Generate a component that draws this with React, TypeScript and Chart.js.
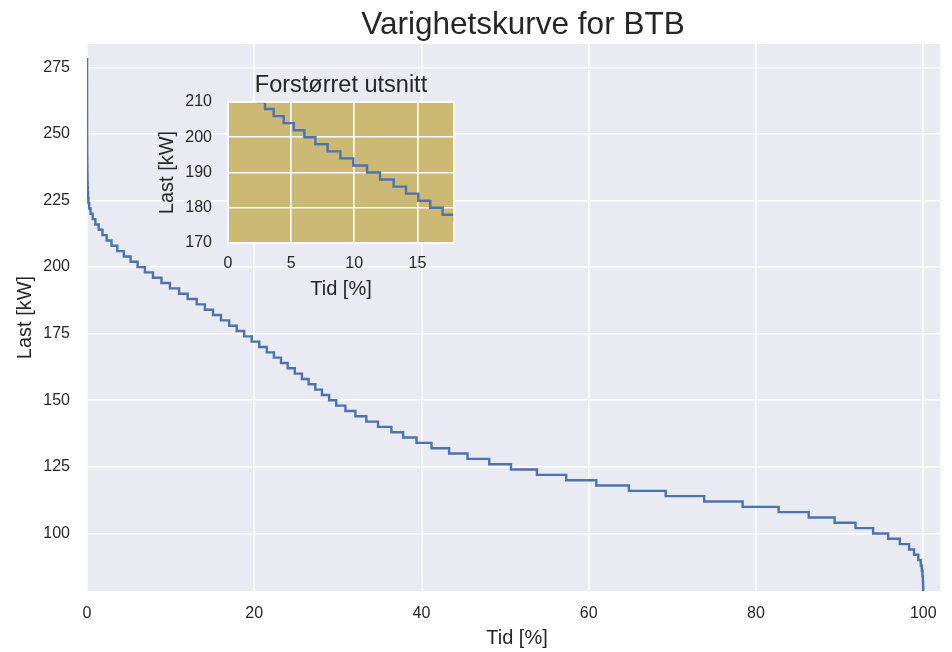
import { useEffect, useRef } from "react";
import { Chart, registerables } from "chart.js";

Chart.register(...registerables);

// Load duration curve: each load level (kW) and the share of time (%) at which it starts
const loadLevels = [
  278, 276, 274, 272, 270, 268, 266, 264, 262, 260,
  258, 256, 254, 252, 250, 248, 246, 244, 242, 240,
  238, 236, 234, 232, 230, 228, 226, 224, 222, 220,
  218, 216, 214, 212, 210, 208, 206, 204, 202, 200,
  198, 196, 194, 192, 190, 188, 186, 184, 182, 180,
  178, 176, 174, 172, 170, 168, 166, 164, 162, 160,
  158, 156, 154, 152, 150, 148, 146, 144, 142, 140,
  138, 136, 134, 132, 130, 128, 126, 124, 122, 120,
  118, 116, 114, 112, 110, 108, 106, 104, 102, 100,
  98, 96, 94, 92, 90, 88, 86, 84, 82, 80, 78,
];
const levelStart = [
  0, 0.001, 0.002, 0.003, 0.004, 0.005, 0.006, 0.007, 0.008, 0.009,
  0.01, 0.011, 0.012, 0.014, 0.016, 0.018, 0.02, 0.023, 0.026, 0.03,
  0.035, 0.042, 0.05, 0.06, 0.075, 0.095, 0.125, 0.17, 0.26, 0.42,
  0.68, 1.0, 1.4, 1.85, 2.35, 2.93, 3.62, 4.41, 5.21, 6.05,
  6.92, 7.89, 8.9, 9.92, 11.01, 12.04, 13.12, 14.1, 15.07, 16.02,
  17.0, 17.9, 18.8, 19.7, 20.6, 21.5, 22.35, 23.2, 24.0, 24.85,
  25.7, 26.5, 27.3, 28.1, 28.95, 29.8, 30.9, 32.1, 33.4, 34.8,
  36.4, 37.8, 39.4, 41.2, 43.3, 45.5, 48.1, 50.7, 53.8, 57.3,
  60.9, 64.8, 69.2, 73.8, 78.4, 82.7, 86.3, 89.4, 91.9, 94.0,
  95.8, 97.2, 98.3, 98.9, 99.4, 99.7, 99.82, 99.9, 99.95, 99.98, 99.995,
];
const endTime = 100;

const mainXTicks = [0, 20, 40, 60, 80, 100];
const mainYTicks = [100, 125, 150, 175, 200, 225, 250, 275];
const insetXTicks = [0, 5, 10, 15];
const insetYTicks = [170, 180, 190, 200, 210];

const FONT = '"Liberation Sans", Arial, Helvetica, sans-serif';
const TEXT = "#262626";
const LINE = "#4C72B0";

function curvePoints() {
  const pts = loadLevels.map((y, i) => ({ x: levelStart[i], y }));
  pts.push({ x: endTime, y: loadLevels[loadLevels.length - 1] });
  return pts;
}

type Label = { text: string; x: number; y: number; size: number; rotate?: boolean };

function areaPlugin(fill: string, frame: boolean) {
  return {
    id: "areaPlugin",
    beforeDraw(chart: any) {
      const { ctx, chartArea: a } = chart;
      ctx.save();
      ctx.fillStyle = fill;
      ctx.fillRect(a.left, a.top, a.right - a.left, a.bottom - a.top);
      ctx.restore();
    },
    afterDatasetsDraw(chart: any) {
      if (!frame) return;
      const { ctx, chartArea: a } = chart;
      ctx.save();
      ctx.strokeStyle = "#ffffff";
      ctx.lineWidth = 1.6;
      ctx.strokeRect(a.left, a.top, a.right - a.left, a.bottom - a.top);
      ctx.restore();
    },
  };
}

function labelPlugin(labels: Label[]) {
  return {
    id: "labelPlugin",
    afterDraw(chart: any) {
      const ctx = chart.ctx;
      for (const l of labels) {
        ctx.save();
        ctx.fillStyle = TEXT;
        ctx.font = `${l.size}px ${FONT}`;
        ctx.textAlign = "center";
        ctx.textBaseline = "alphabetic";
        ctx.translate(l.x, l.y);
        if (l.rotate) ctx.rotate(-Math.PI / 2);
        ctx.fillText(l.text, 0, 0);
        ctx.restore();
      }
    },
  };
}

function axis(opts: {
  min: number;
  max: number;
  ticks: number[];
  size: number;
  horizontal: boolean;
  padding: number;
}) {
  return {
    type: "linear" as const,
    min: opts.min,
    max: opts.max,
    afterBuildTicks: (s: any) => {
      s.ticks = opts.ticks.map((v) => ({ value: v }));
    },
    afterFit: (s: any) => {
      if (opts.horizontal) s.height = opts.size;
      else s.width = opts.size;
    },
    grid: { color: "#ffffff", lineWidth: 1.6, drawTicks: false },
    border: { display: false },
    ticks: {
      padding: opts.padding,
      color: TEXT,
      font: { family: FONT, size: 16 },
      maxRotation: 0,
      autoSkip: false,
    },
  };
}

function dataset() {
  return {
    data: curvePoints(),
    borderColor: LINE,
    borderWidth: 2.4,
    pointRadius: 0,
    stepped: true,
    tension: 0,
    fill: false,
    clip: 0,
  };
}

export default function App() {
  const mainRef = useRef<HTMLCanvasElement>(null);
  const insetRef = useRef<HTMLCanvasElement>(null);

  useEffect(() => {
    const main = new Chart(mainRef.current as HTMLCanvasElement, {
      type: "line",
      data: { datasets: [dataset() as any] },
      options: {
        responsive: false,
        animation: false,
        events: [],
        layout: { padding: { left: 0, top: 44, right: 12, bottom: 0 } },
        plugins: { legend: { display: false }, tooltip: { enabled: false } },
        scales: {
          x: axis({ min: 0, max: 102, ticks: mainXTicks, size: 61, horizontal: true, padding: 13 }) as any,
          y: axis({ min: 78.4, max: 283.75, ticks: mainYTicks, size: 87, horizontal: false, padding: 17 }) as any,
        },
      },
      plugins: [
        areaPlugin("#EAEAF2", false),
        labelPlugin([
          { text: "Varighetskurve for BTB", x: 523, y: 34, size: 31.5 },
          { text: "Tid [%]", x: 517, y: 644, size: 20 },
          { text: "Last [kW]", x: 31, y: 317.5, size: 20, rotate: true },
        ]),
      ],
    });

    const inset = new Chart(insetRef.current as HTMLCanvasElement, {
      type: "line",
      data: { datasets: [dataset() as any] },
      options: {
        responsive: false,
        animation: false,
        events: [],
        layout: { padding: { left: 0, top: 42, right: 16, bottom: 0 } },
        plugins: { legend: { display: false }, tooltip: { enabled: false } },
        scales: {
          x: axis({ min: 0, max: 17.9, ticks: insetXTicks, size: 67, horizontal: true, padding: 11 }) as any,
          y: axis({ min: 170, max: 210, ticks: insetYTicks, size: 88, horizontal: false, padding: 16 }) as any,
        },
      },
      plugins: [
        areaPlugin("#CCB974", true),
        labelPlugin([
          { text: "Forstørret utsnitt", x: 201, y: 32, size: 23.5 },
          { text: "Tid [%]", x: 201, y: 235, size: 20 },
          { text: "Last [kW]", x: 32.5, y: 112.5, size: 20, rotate: true },
        ]),
      ],
    });

    return () => {
      main.destroy();
      inset.destroy();
    };
  }, []);

  return (
    <div style={{ position: "fixed", left: 0, top: 0, width: 952, height: 652, background: "#ffffff" }}>
      <canvas ref={mainRef} width={952} height={652} style={{ position: "absolute", left: 0, top: 0 }} />
      <canvas ref={insetRef} width={330} height={250} style={{ position: "absolute", left: 140, top: 60 }} />
    </div>
  );
}
